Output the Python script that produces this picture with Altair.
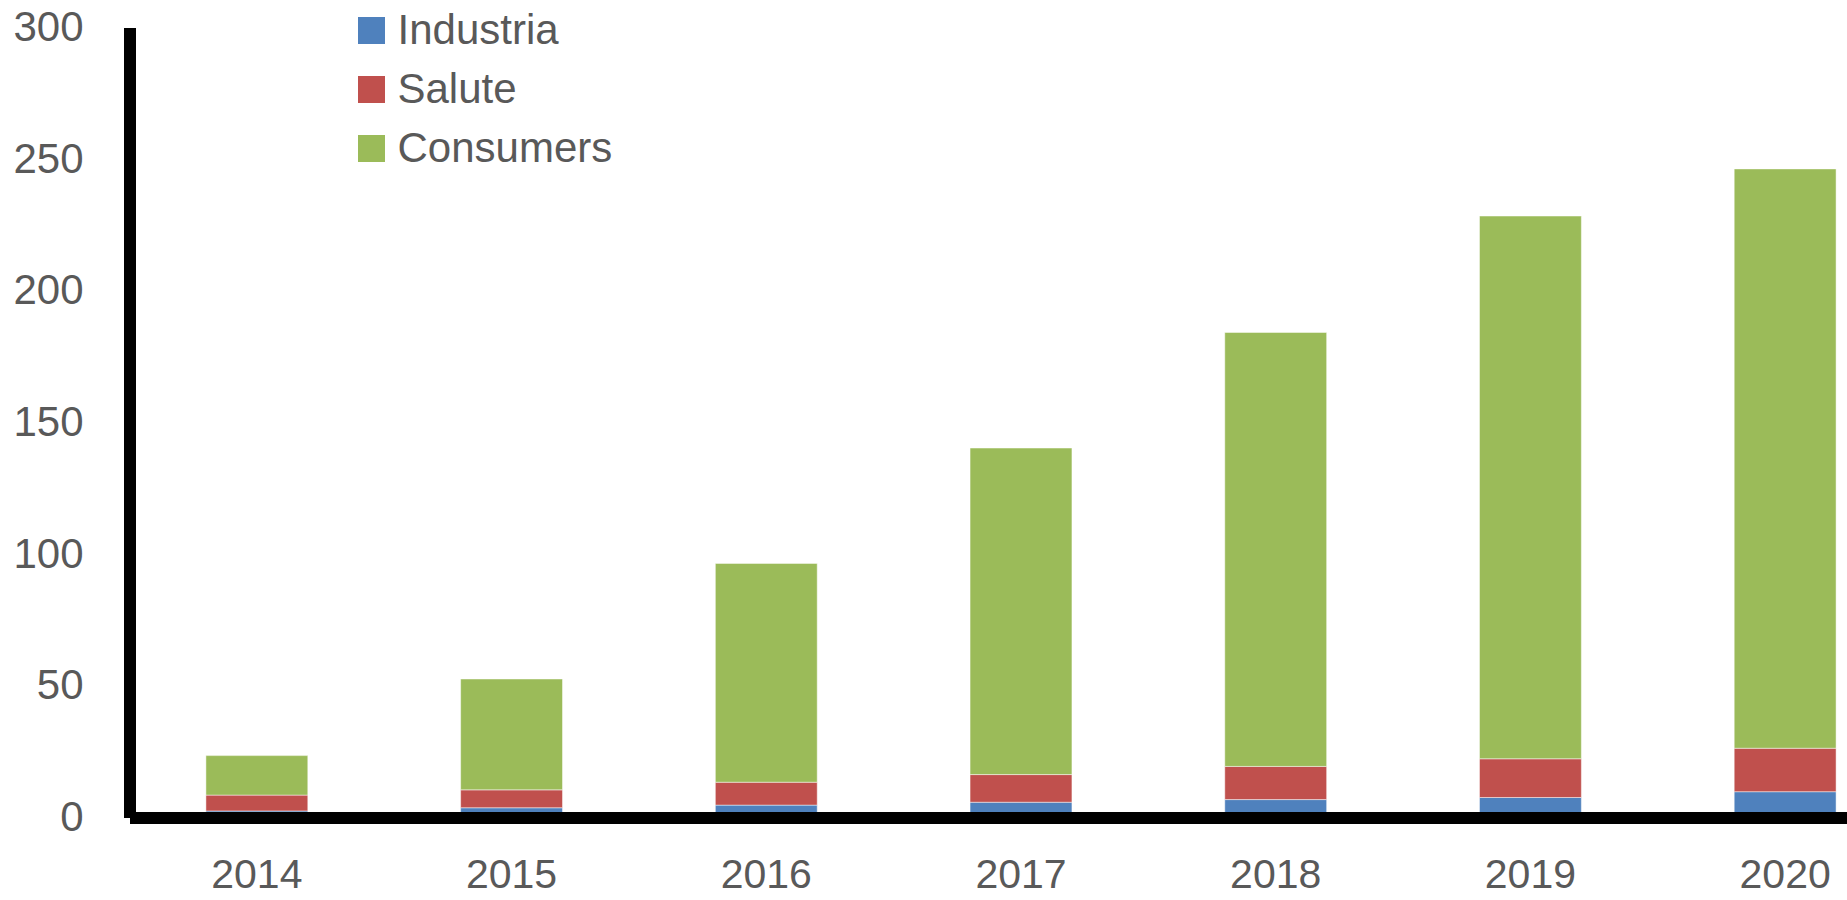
import altair as alt
import pandas as pd

years = ["2014", "2015", "2016", "2017", "2018", "2019", "2020"]
industria = [2.5, 3.7, 4.7, 5.8, 6.8, 7.6, 9.8]
salute = [6.0, 6.8, 8.7, 10.5, 12.6, 14.7, 16.5]
consumers = [15.0, 42.1, 83.1, 124.0, 164.8, 206.1, 220.0]
series = ["Industria", "Salute", "Consumers"]
colors = ["#4F81BD", "#C0504D", "#9BBB59"]
y_ticks = [0, 50, 100, 150, 200, 250, 300]

rows = []
for i, y in enumerate(years):
    for k, (name, vals) in enumerate(zip(series, [industria, salute, consumers])):
        rows.append({"year": y, "series": name, "value": vals[i], "ord": k})
df = pd.DataFrame(rows)

FONT = "Liberation Sans"
TXT = "#595959"

chart = alt.Chart(df).mark_bar(stroke="white", strokeWidth=0.8, strokeOpacity=0.6).encode(
    x=alt.X("year:N", sort=years,
            scale=alt.Scale(range=[0, 1783], paddingInner=0.6, paddingOuter=0.3),
            axis=alt.Axis(title=None, labelAngle=0, domainWidth=12, domainColor="black",
                          ticks=False, tickSize=0, labelFontSize=41, labelColor=TXT,
                          labelFont=FONT, labelPadding=38, labelBaseline="top", grid=False,
                          zindex=1)),
    y=alt.Y("value:Q", stack="zero",
            scale=alt.Scale(domain=[0, 300], nice=False),
            axis=alt.Axis(title=None, values=y_ticks, domainWidth=12, domainColor="black",
                          ticks=False, tickSize=0, labelFontSize=42, labelColor=TXT,
                          labelFont=FONT, labelPadding=46.5, grid=False, zindex=1)),
    color=alt.Color("series:N",
                    scale=alt.Scale(domain=series, range=colors),
                    legend=alt.Legend(title=None, orient="none", legendX=221, legendY=-18,
                                      symbolType="square", symbolSize=729, symbolStrokeWidth=0,
                                      labelFontSize=42, labelColor=TXT, labelFont=FONT,
                                      labelOffset=5, labelLimit=0, rowPadding=17, padding=0)),
    order=alt.Order("ord:Q"),
).properties(
    width=1717.5, height=790,
    autosize=alt.AutoSizeParams(type="none"),
    padding={"left": 129.5, "top": 27.5, "right": 0, "bottom": 82.5},
    background="white",
).configure_view(stroke=None)

chart.save("out.html", embed_options={"renderer": "svg", "actions": False})
